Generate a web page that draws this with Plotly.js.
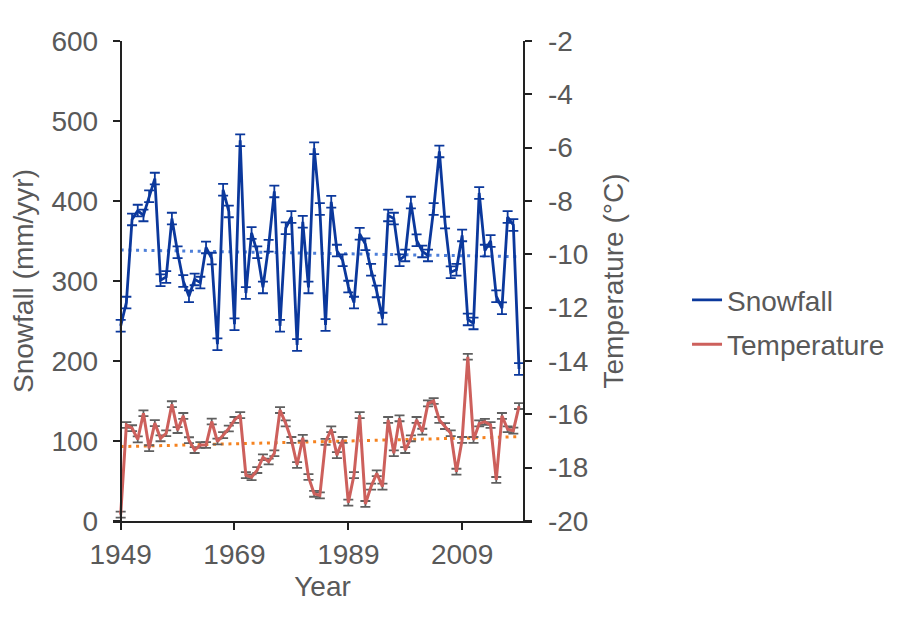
<!DOCTYPE html>
<html>
<head>
<meta charset="utf-8">
<script src="https://cdn.plot.ly/plotly-3.0.1.min.js"></script>
<style>html,body{margin:0;padding:0;background:#fff;}#chart{width:915px;height:631px;}</style>
</head>
<body>
<div id="chart"></div>
<script>
const years = [1949,1950,1951,1952,1953,1954,1955,1956,1957,1958,
  1959,1960,1961,1962,1963,1964,1965,1966,1967,1968,
  1969,1970,1971,1972,1973,1974,1975,1976,1977,1978,
  1979,1980,1981,1982,1983,1984,1985,1986,1987,1988,
  1989,1990,1991,1992,1993,1994,1995,1996,1997,1998,
  1999,2000,2001,2002,2003,2004,2005,2006,2007,2008,
  2009,2010,2011,2012,2013,2014,2015,2016,2017,2018,
  2019];
const snowfall = [244,273,377,388,382,406,428,301,305,378,
  336,300,281,302,298,342,328,221,414,387,
  246,476,285,360,336,292,344,412,244,366,
  380,220,374,292,466,390,245,399,338,326,
  293,273,359,346,314,287,253,382,378,326,
  332,398,351,337,332,390,462,373,311,314,
  357,252,247,410,338,350,281,266,380,370,
  190];
const temperature = [-19.76,-16.40,-16.52,-16.94,-15.96,-17.27,-16.33,-16.90,-16.71,-15.62,
  -16.59,-16.06,-16.97,-17.34,-17.15,-17.15,-16.27,-17.02,-16.78,-16.53,
  -16.21,-16.03,-18.28,-18.36,-18.09,-17.61,-17.77,-17.46,-15.84,-16.34,
  -16.96,-17.90,-16.88,-18.35,-18.98,-19.04,-17.03,-16.56,-17.53,-16.96,
  -19.31,-18.28,-16.03,-19.36,-18.71,-18.21,-18.71,-16.21,-17.46,-16.15,
  -17.34,-16.90,-16.21,-16.65,-15.59,-15.50,-16.21,-16.44,-16.71,-18.15,
  -16.96,-13.84,-16.96,-16.34,-16.28,-16.40,-18.46,-16.06,-16.56,-16.61,
  -15.69];
const snowfallError = 7.3;
const temperatureError = 0.11;
const trendYears = [1949, 2019];
const snowfallTrend = [338.8, 330.4];
const temperatureTrend = [-17.21, -16.84];
const xTickVals = [1949, 1969, 1989, 2009];
const snowTickVals = [0, 100, 200, 300, 400, 500, 600];
const tempTickVals = [-20, -18, -16, -14, -12, -10, -8, -6, -4, -2];
const tempTickText = ['-20', '-18', '-16', '-14', '-12', '-10', '-8', '-6', '-4', '-2'];

const FONT = 'Liberation Sans, Arial, Helvetica, sans-serif';
const GREY = '#595959';
const BLUE = '#0b389c';
const RED = '#cd605c';

const traces = [
  {x: trendYears, y: snowfallTrend, yaxis: 'y', mode: 'lines', showlegend: false, hoverinfo: 'skip',
   line: {color: '#4d7fd9', width: 3, dash: '3px,4.7px'}},
  {x: trendYears, y: temperatureTrend, yaxis: 'y2', mode: 'lines', showlegend: false, hoverinfo: 'skip',
   line: {color: '#f5821f', width: 3, dash: '3px,4.7px'}},
  {x: years, y: snowfall, yaxis: 'y', name: 'Snowfall', mode: 'lines', legendgroup: 'a',
   line: {color: BLUE, width: 2.8},
   error_y: {type: 'constant', value: snowfallError, color: BLUE, thickness: 1.8, width: 5}},
  {x: years, y: temperature, yaxis: 'y2', name: 'Temperature', mode: 'lines', legendgroup: 'b',
   line: {color: RED, width: 3},
   error_y: {type: 'constant', value: temperatureError, color: '#5f5f5f', thickness: 1.8, width: 5}}
];

const axisCommon = {showgrid: false, zeroline: false, showline: true, linecolor: '#222', linewidth: 2,
  ticks: 'outside', ticklen: 7, tickwidth: 2, tickcolor: '#222',
  tickfont: {family: FONT, size: 28, color: GREY}};

const layout = {
  width: 915, height: 631,
  margin: {l: 113, r: 383, t: 41, b: 110},
  paper_bgcolor: '#fff', plot_bgcolor: '#fff',
  font: {family: FONT, color: GREY, size: 28},
  showlegend: true,
  legend: {x: 1.37, y: 0.512, xanchor: 'left', yanchor: 'top', traceorder: 'grouped', tracegroupgap: 5,
    font: {family: FONT, size: 28, color: GREY}, bgcolor: 'rgba(0,0,0,0)'},
  xaxis: Object.assign({}, axisCommon, {range: [1947.65, 2021.28], tickvals: xTickVals,
    title: {text: 'Year', font: {family: FONT, size: 28, color: GREY}, standoff: 8}}),
  yaxis: Object.assign({}, axisCommon, {range: [0, 600], tickvals: snowTickVals, anchor: 'free', position: 0.0184,
    ticklabelstandoff: 9,
    title: {text: 'Snowfall (mm/yyr)', font: {family: FONT, size: 28, color: GREY}, standoff: 9}}),
  yaxis2: Object.assign({}, axisCommon, {range: [-20, -2], tickvals: tempTickVals, ticktext: tempTickText,
    anchor: 'free', position: 0.9816, overlaying: 'y', side: 'right', ticklabelstandoff: 10,
    title: {text: 'Temperature (°C)', font: {family: FONT, size: 28, color: GREY}, standoff: 15}})
};

Plotly.newPlot('chart', traces, layout, {displayModeBar: false, staticPlot: true});
</script>
</body>
</html>
